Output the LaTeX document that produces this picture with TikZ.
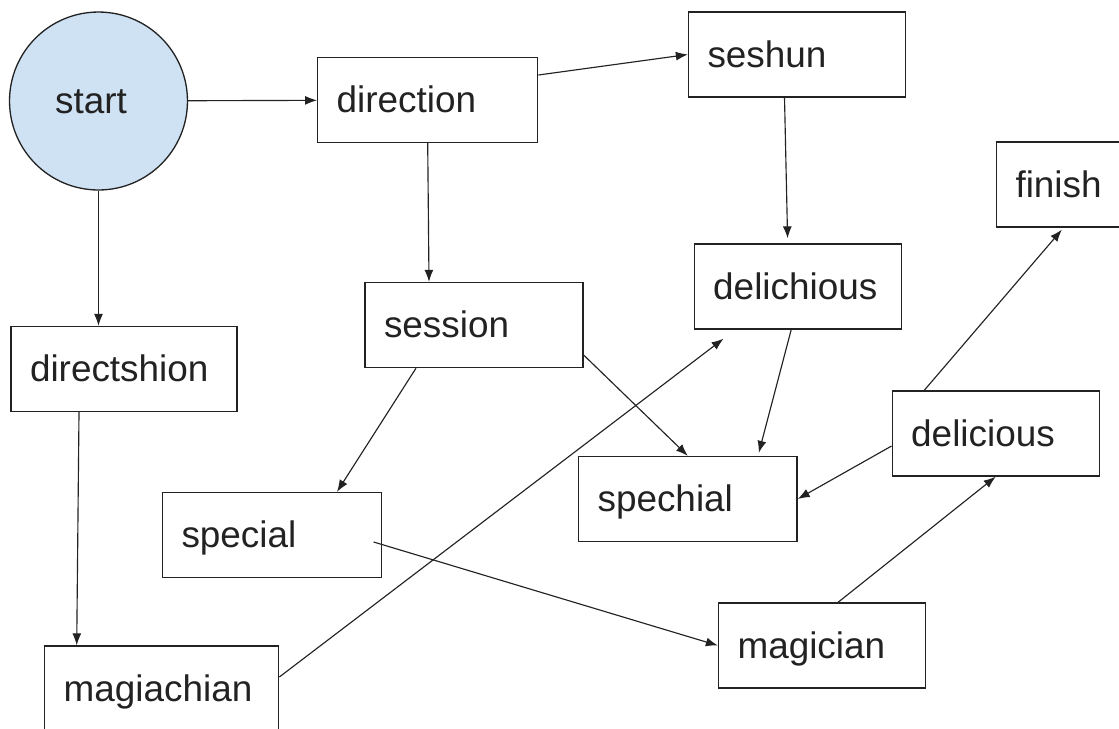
\documentclass[tikz,border=0pt]{standalone}
\usepackage{fontspec}
\setmainfont{Liberation Sans}
\usepackage{xcolor}
\usepackage{tikz}
\usetikzlibrary{arrows.meta, positioning, calc}
\definecolor{startblue}{HTML}{CFE2F3}
\definecolor{ink}{HTML}{222222}
\tikzset{
  box/.style={draw=ink, line width=0.75pt, align=left, minimum height=1.7cm,
    inner xsep=0.38cm, text height=0.5cm, text depth=0cm, text=ink},
  startnode/.style={circle, draw=ink, line width=0.75pt, fill=startblue,
    minimum size=3.56cm, inner sep=0pt, text height=0.5cm, text depth=0cm, text=ink},
  arr/.style={-{Latex[length=2.4mm,width=1.8mm]}, line width=0.65pt, draw=ink},
}

\begin{document}
\begin{tikzpicture}[x=0.02cm, y=-0.02cm, font=\fontsize{21}{25}\selectfont]
  \clip (0,0) rectangle (1119,728);
  % nodes, placed at pixel positions of the sketch
  \node[startnode] (start) at (98.5,101) {start\hspace*{0.3cm}};
  \node[box, text width=3.64cm] (direction)   at (427.7,100) {direction};
  \node[box, text width=3.58cm] (seshun)      at (797,54.5)  {seshun};
  \node[box, text width=3.38cm] (finish)      at (1100,184.5) {finish};
  \node[box, text width=3.38cm] (delichious)  at (797.7,286.5) {delichious};
  \node[box, text width=3.60cm] (session)     at (474,325)   {session};
  \node[box, text width=3.76cm] (directshion) at (124,369)   {directshion};
  \node[box, text width=3.38cm] (delicious)   at (995.7,433.5) {delicious};
  \node[box, text width=3.61cm] (spechial)    at (687.8,499) {spechial};
  \node[box, text width=3.62cm] (special)     at (272,535)   {special};
  \node[box, text width=3.38cm] (magician)    at (822,645.5) {magician};
  \node[box, text width=3.92cm] (magiachian)  at (161.7,688.5) {magiachian};

  % connectors
  \draw[arr] (start) -- (direction);
  \draw[arr] (start.south) -- (start.south |- directshion.north);
  \draw[arr] ([yshift=0.5cm]direction.east) -- (seshun.west);
  \draw[arr] (direction.south) -- ([xshift=-0.9cm]session.north);
  \draw[arr, shorten >=0.1cm] ([xshift=-0.25cm]seshun.south) -- ([xshift=-0.2cm]delichious.north);
  \draw[arr] ([xshift=-0.9cm]directshion.south) -- ([xshift=-1.7cm]magiachian.north);
  \draw[arr] ([yshift=0.23cm]magiachian.east) -- ([xshift=0.6cm,yshift=-0.18cm]delichious.south west);
  \draw[arr] ([xshift=-1.16cm]session.south) -- ([xshift=1.3cm]special.north);
  \draw[arr] ([yshift=-0.6cm]session.east) -- (spechial.north);
  \draw[arr] ([xshift=-0.13cm]delichious.south) -- ([xshift=1.42cm,yshift=0.06cm]spechial.north);
  \draw[arr] ([xshift=-0.17cm,yshift=-0.14cm]special.east) -- (magician.west);
  \draw[arr] ([yshift=-0.25cm]delicious.west) -- (spechial.east);
  \draw[arr] ([xshift=0.32cm]magician.north) -- (delicious.south);
  \draw[arr] ([xshift=-1.43cm]delicious.north) -- ([xshift=1.32cm,yshift=-0.04cm]finish.south west);
\end{tikzpicture}
\end{document}
